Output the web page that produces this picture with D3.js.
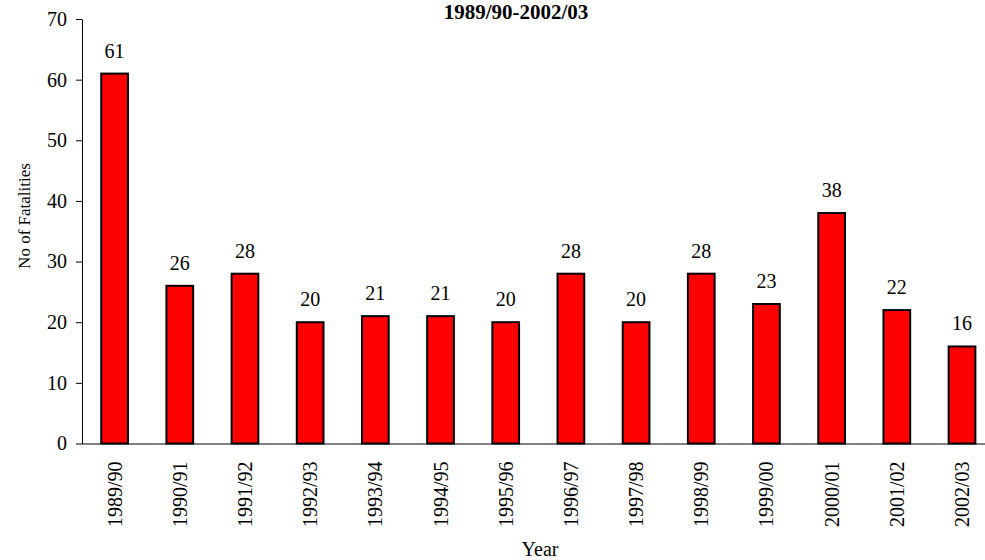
<!DOCTYPE html>
<html>
<head>
<meta charset="utf-8">
<script src="https://cdn.jsdelivr.net/npm/d3@7"></script>
<style>
  body { margin: 0; background: #fff; }
</style>
</head>
<body>
<svg id="chart" width="985" height="560"></svg>
<script>
var years = ["1989/90", "1990/91", "1991/92", "1992/93", "1993/94", "1994/95", "1995/96",
             "1996/97", "1997/98", "1998/99", "1999/00", "2000/01", "2001/02", "2002/03"]
var fatalities = [61, 26, 28, 20, 21, 21, 20, 28, 20, 28, 23, 38, 22, 16]
var yTicks = [0, 10, 20, 30, 40, 50, 60, 70]

var FONT = "'Liberation Serif', 'Times New Roman', serif"

var svg = d3.select("#chart").attr("font-family", FONT)
var margin = {top: 19, left: 82, bottom: 116.5}
var height = 560 - margin.top - margin.bottom
var plotRight = 994.6

var data = years.map((y, i) => ({year: y, value: fatalities[i]}))

var x = d3.scaleBand().domain(years).range([margin.left, plotRight])
  .paddingInner(0.59).paddingOuter(0.295)
var y = d3.scaleLinear().domain([0, 70]).range([margin.top + height, margin.top])

// Y axis
var yAxis = d3.axisLeft(y).tickValues(yTicks).tickSize(6).tickSizeOuter(0).tickPadding(9)
var gy = svg.append("g").attr("transform", "translate(" + margin.left + ",0)").call(yAxis)
  .attr("font-family", FONT).attr("font-size", 20)
gy.select(".domain").attr("stroke", "#000")
gy.selectAll("text").attr("fill", "#000")

// X axis line (no ticks)
var xAxis = d3.axisBottom(x).tickSize(0).tickSizeOuter(0)
var gx = svg.append("g").attr("transform", "translate(0," + y(0) + ")").call(xAxis)
  .attr("font-family", FONT).attr("font-size", 20)
gx.select(".domain").attr("stroke", "#000")
gx.selectAll("text")
  .attr("fill", "#000")
  .attr("text-anchor", "end")
  .attr("transform", "rotate(-90)")
  .attr("x", -18)
  .attr("y", 0)
  .attr("dy", "0.35em")

// Bars
svg.append("g").selectAll("rect").data(data).enter().append("rect")
  .attr("x", d => x(d.year))
  .attr("y", d => y(d.value))
  .attr("width", x.bandwidth())
  .attr("height", d => y(0) - y(d.value))
  .attr("fill", "#ff0000")
  .attr("stroke", "#000")
  .attr("stroke-width", 2)

// Value labels
svg.append("g").selectAll("text").data(data).enter().append("text")
  .attr("x", d => x(d.year) + x.bandwidth() / 2)
  .attr("y", d => y(d.value) - 16)
  .attr("text-anchor", "middle")
  .attr("font-size", 20)
  .text(d => d.value)

// Titles
svg.append("text")
  .attr("x", 516).attr("y", 19)
  .attr("text-anchor", "middle")
  .attr("font-size", 21).attr("font-weight", "bold")
  .text("1989/90-2002/03")

svg.append("text")
  .attr("x", 540).attr("y", 556)
  .attr("text-anchor", "middle")
  .attr("font-size", 20)
  .text("Year")

svg.append("text")
  .attr("transform", "translate(30,216) rotate(-90)")
  .attr("text-anchor", "middle")
  .attr("font-size", 17)
  .text("No of Fatalities")
</script>
</body>
</html>
